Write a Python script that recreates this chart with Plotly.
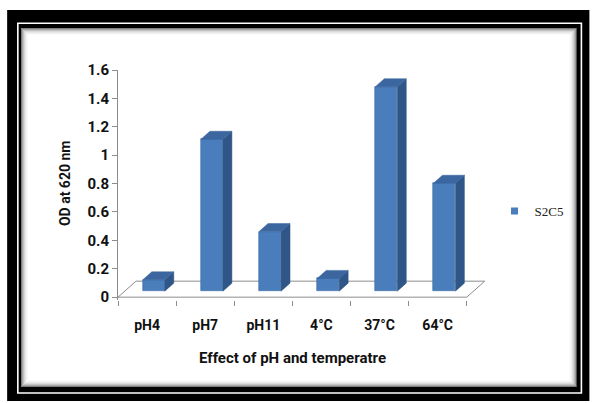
import plotly.graph_objects as go

# ---------------- data ----------------
categories = ["pH4", "pH7", "pH11", "4°C", "37°C", "64°C"]
od_values = [0.08, 1.07, 0.42, 0.09, 1.44, 0.76]
series_name = "S2C5"
y_ticks = [0, 0.2, 0.4, 0.6, 0.8, 1.0, 1.2, 1.4, 1.6]
y_ticktext = ["0", "0.2", "0.4", "0.6", "0.8", "1", "1.2", "1.4", "1.6"]
x_title = "Effect of pH and temperatre"
y_title = "OD at 620 nm"

# ---------------- geometry / style ----------------
FW, FH = 592, 403
L, T, B = 118, 70, 103
X_RANGE = [-0.5, 5.9]
Y_RANGE = [-0.02, 1.6]
PX_PER_CAT = 58.2
R = FW - L - (X_RANGE[1] - X_RANGE[0]) * PX_PER_CAT
PW = FW - L - R
PH = FH - T - B

DEPTH_X = 18 / PX_PER_CAT          # floor depth projected in category units
DEPTH_Y = 16 / (PH / (Y_RANGE[1] - Y_RANGE[0]))  # floor depth in value units
D0, D1 = 0.375, 0.875              # bar front / back depth fraction
BAR_W = 0.378

FRONT = "#4A7DBB"
FRONT_LINE = "#3C6BA6"
SIDE = "#2F5687"
TOP = "#3B669F"
AXIS_GRAY = "#8C8C8C"
FONT = "Roboto, Arial, sans-serif"


def fx(px):
    return (px - L) / PW


def fy(py):
    return (FH - B - py) / PH


def sx(d):
    return DEPTH_X * d


def sy(d):
    return DEPTH_Y * d


fig = go.Figure()

# front faces (real bars)
fig.add_trace(go.Bar(
    x=[i + sx(D0) for i in range(len(categories))],
    y=od_values,
    base=sy(D0),
    width=BAR_W,
    marker=dict(color=FRONT, line=dict(color=FRONT_LINE, width=0.6)),
    name=series_name,
    showlegend=False,
    hovertext=categories,
))

# side and top faces
side_x, side_y, top_x, top_y = [], [], [], []
for i, v in enumerate(od_values):
    xl = i - BAR_W / 2
    xr = i + BAR_W / 2
    side_x += [xr + sx(D0), xr + sx(D1), xr + sx(D1), xr + sx(D0), xr + sx(D0), None]
    side_y += [sy(D0), sy(D1), v + sy(D1), v + sy(D0), sy(D0), None]
    top_x += [xl + sx(D0), xr + sx(D0), xr + sx(D1), xl + sx(D1), xl + sx(D0), None]
    top_y += [v + sy(D0), v + sy(D0), v + sy(D1), v + sy(D1), v + sy(D0), None]

fig.add_trace(go.Scatter(x=side_x, y=side_y, fill="toself", fillcolor=SIDE,
                         mode="lines", line=dict(color=SIDE, width=0.5),
                         showlegend=False, hoverinfo="skip"))
fig.add_trace(go.Scatter(x=top_x, y=top_y, fill="toself", fillcolor=TOP,
                         mode="lines", line=dict(color=TOP, width=0.5),
                         showlegend=False, hoverinfo="skip"))

# legend entry
fig.add_trace(go.Scatter(x=[None], y=[None], mode="markers", name=series_name,
                         marker=dict(symbol="square", size=7, color=FRONT)))

n = len(categories)
x0, x1 = -0.5, n - 0.5
floor_path = (f"M {x0},0 L {x1},0 L {x1 + sx(1)},{sy(1)} "
              f"L {x0 + sx(1)},{sy(1)} Z")

shapes = [
    # outer black frame
    dict(type="rect", xref="paper", yref="paper", x0=fx(7), x1=fx(590), y0=fy(401), y1=fy(10),
         fillcolor="black", line=dict(width=0), layer="below"),
    # thin white line
    dict(type="rect", xref="paper", yref="paper", x0=fx(17.7), x1=fx(582), y0=fy(393), y1=fy(23.3),
         line=dict(color="white", width=1.6), layer="below"),
    # inner white panel
    dict(type="rect", xref="paper", yref="paper", x0=fx(21), x1=fx(577), y0=fy(387), y1=fy(28),
         fillcolor="white", line=dict(width=0), layer="below"),
]
for k, a in enumerate([0.5, 0.35, 0.24, 0.15, 0.09, 0.05, 0.025]):
    shapes.append(dict(type="rect", xref="paper", yref="paper",
                       x0=fx(21.5 + k), x1=fx(576.5 - k), y0=fy(386.5 - k), y1=fy(28.5 + k),
                       line=dict(color=f"rgba(0,0,0,{a})", width=1), layer="below"))
# floor
shapes.append(dict(type="path", xref="x", yref="y", path=floor_path,
                   line=dict(color=AXIS_GRAY, width=1), fillcolor="rgba(0,0,0,0)",
                   layer="below"))

fig.update_layout(
    width=FW, height=FH,
    margin=dict(l=L, r=R, t=T, b=B),
    paper_bgcolor="white",
    plot_bgcolor="rgba(0,0,0,0)",
    shapes=shapes,
    bargap=0,
    showlegend=True,
    legend=dict(x=fx(495), y=fy(211), xanchor="left", yanchor="middle",
                font=dict(family="Liberation Serif, serif", size=13, color="#222"),
                bgcolor="rgba(0,0,0,0)", itemwidth=30),
    xaxis=dict(range=X_RANGE, tickmode="array", tickvals=list(range(n)), ticktext=categories,
               ticks="", showline=False, showgrid=False, zeroline=False,
               tickfont=dict(family=FONT, size=14, color="#111", weight="bold"),
               ticklabelstandoff=15,
               minor=dict(tickmode="array", tickvals=[i - 0.5 for i in range(n + 1)],
                          ticks="outside", ticklen=5, tickcolor=AXIS_GRAY, showgrid=False)),
    yaxis=dict(range=Y_RANGE, tickmode="array", tickvals=y_ticks, ticktext=y_ticktext,
               ticks="outside", ticklen=5, tickcolor=AXIS_GRAY,
               showline=True, linecolor=AXIS_GRAY, linewidth=1,
               showgrid=False, zeroline=False,
               tickfont=dict(family=FONT, size=15, color="#111", weight="bold")),
    annotations=[
        dict(text=y_title, xref="paper", yref="paper", x=fx(65), y=fy(183), textangle=-90,
             showarrow=False, font=dict(family=FONT, size=14, color="#111", weight="bold"),
             xanchor="center", yanchor="middle"),
        dict(text=x_title, xref="x", yref="paper", x=(n - 1) / 2, y=fy(358), showarrow=False,
             font=dict(family=FONT, size=15, color="#111", weight="bold"),
             xanchor="center", yanchor="middle"),
    ],
)

fig.write_html("out.html")
